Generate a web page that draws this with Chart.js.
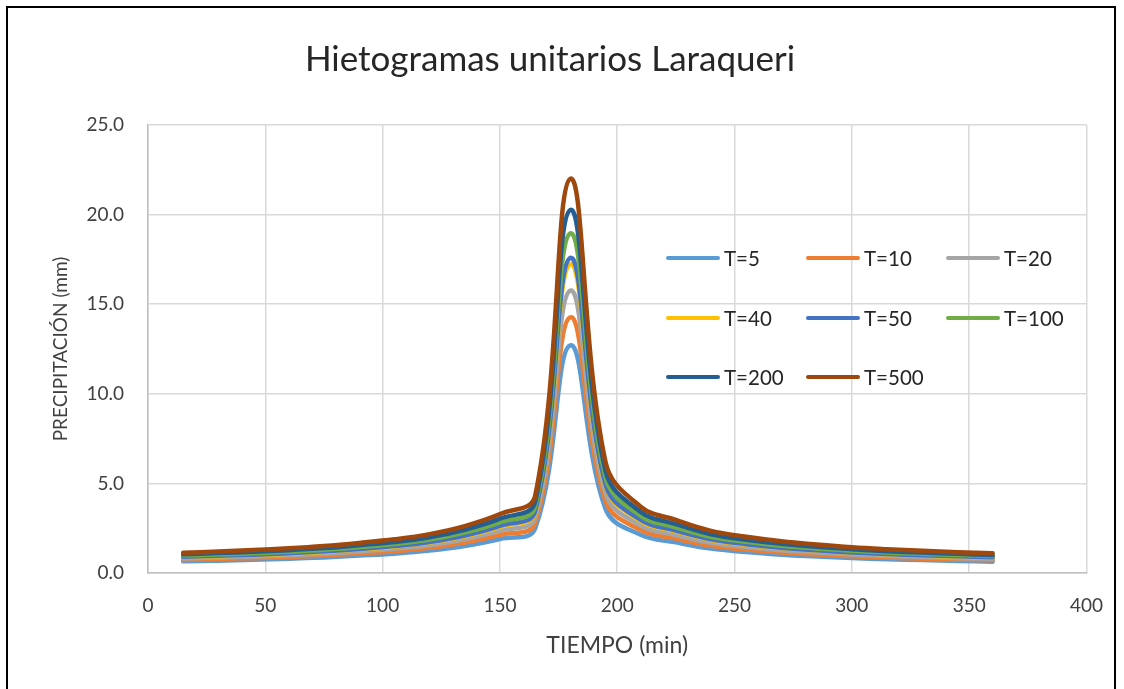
<!DOCTYPE html>
<html>
<head>
<meta charset="utf-8">
<script src="https://cdn.jsdelivr.net/npm/chart.js@4.4.1/dist/chart.umd.min.js"></script>
<style>
  html, body { margin: 0; padding: 0; background: #fff; }
  #wrap { position: relative; width: 1124px; height: 689px; overflow: hidden; background: #fff; }
  #frame { position: absolute; left: 6px; top: 6px; width: 1106px; height: 740px; border: 2px solid #000; pointer-events: none; }
  #legend { position: absolute; left: 0; top: 0; font-family: Lato, "Noto Sans", sans-serif; font-size: 20.5px; color: #262626; }
  .item { position: absolute; display: flex; align-items: center; height: 24px; white-space: nowrap; }
  .swatch { width: 54px; height: 4px; border-radius: 2px; margin-right: 4px; }
</style>
</head>
<body>
<div id="wrap">
  <canvas id="c" width="1124" height="689"></canvas>
  <div id="legend"></div>
  <div id="frame"></div>
</div>
<script>
// ---- data ----
const tiempo = [15,30,45,60,75,90,105,120,135,150,165,180,195,210,225,240,255,270,285,300,315,330,345,360];
const seriesLabels = ["T=5","T=10","T=20","T=40","T=50","T=100","T=200","T=500"];
const T5   = [0.65,0.69,0.74,0.80,0.87,0.97,1.08,1.25,1.51,1.90,2.48,12.70,3.58,2.13,1.71,1.36,1.17,1.02,0.92,0.83,0.77,0.72,0.67,0.63];
const T10  = [0.73,0.78,0.83,0.89,0.98,1.09,1.22,1.41,1.70,2.13,2.79,14.26,4.02,2.40,1.92,1.52,1.31,1.15,1.03,0.93,0.86,0.80,0.75,0.71];
const T20  = [0.81,0.86,0.92,0.99,1.08,1.20,1.35,1.55,1.88,2.36,3.08,15.76,4.44,2.65,2.12,1.68,1.45,1.27,1.14,1.03,0.95,0.89,0.83,0.79];
const T40  = [0.89,0.94,1.00,1.08,1.18,1.32,1.47,1.70,2.05,2.58,3.37,17.24,4.86,2.90,2.32,1.84,1.58,1.39,1.25,1.13,1.04,0.97,0.91,0.86];
const T50  = [0.90,0.96,1.02,1.10,1.21,1.34,1.50,1.73,2.09,2.63,3.44,17.58,4.95,2.96,2.37,1.88,1.61,1.41,1.27,1.15,1.06,0.99,0.93,0.88];
const T100 = [0.97,1.03,1.10,1.19,1.30,1.45,1.62,1.87,2.26,2.83,3.70,18.95,5.34,3.19,2.55,2.02,1.74,1.52,1.37,1.24,1.15,1.07,1.00,0.95];
const T200 = [1.04,1.11,1.18,1.27,1.39,1.55,1.73,2.00,2.41,3.03,3.96,20.26,5.71,3.41,2.73,2.16,1.86,1.63,1.46,1.33,1.22,1.14,1.07,1.01];
const T500 = [1.13,1.20,1.28,1.38,1.51,1.68,1.88,2.17,2.62,3.29,4.30,22.00,6.20,3.70,2.96,2.35,2.02,1.77,1.59,1.44,1.33,1.24,1.16,1.10];
const xTicks = [0,50,100,150,200,250,300,350,400];
const yTicks = [0,5,10,15,20,25];

const seriesValues = [T5,T10,T20,T40,T50,T100,T200,T500];
const colors = ["#5B9BD5","#ED7D31","#A5A5A5","#FFC000","#4472C4","#70AD47","#255E91","#9E480E"];

const FONT = 'Lato, "Noto Sans", sans-serif';
const TXT = '#404040';

const datasets = seriesValues.map((vals, i) => ({
  label: seriesLabels[i],
  data: tiempo.map((t, k) => ({ x: t, y: vals[k] })),
  borderColor: colors[i],
  backgroundColor: colors[i],
  borderWidth: 4.5,
  pointRadius: 0,
  tension: 0.4,
  fill: false,
  order: seriesLabels.length - 1 - i,
  borderCapStyle: 'round',
  borderJoinStyle: 'round'
}));

const chart = new Chart(document.getElementById('c'), {
  type: 'line',
  data: { datasets },
  options: {
    responsive: false,
    animation: false,
    layout: { padding: { left: 8, right: 32, top: 0, bottom: 0 } },
    plugins: {
      legend: { display: false },
      tooltip: { enabled: false },
      title: {
        display: true,
        text: 'Hietogramas unitarios Laraqueri',
        color: '#262626',
        font: { family: FONT, size: 35, weight: 'normal', lineHeight: 1.2 },
        padding: { top: 39, bottom: 44 }
      }
    },
    scales: {
      x: {
        type: 'linear',
        min: 0, max: 400,
        afterBuildTicks: (s) => { s.ticks = xTicks.map(v => ({ value: v })); },
        afterFit: (s) => { s.height = 116; },
        ticks: { color: TXT, font: { family: FONT, size: 19 }, padding: 21, maxRotation: 0 },
        grid: { color: '#d9d9d9', lineWidth: 1.5, drawTicks: false },
        border: { color: '#bfbfbf', width: 1.5 },
        title: { display: true, text: 'TIEMPO (min)', color: TXT, font: { family: FONT, size: 23 }, padding: { top: 0, bottom: 30 } }
      },
      y: {
        type: 'linear',
        min: 0, max: 25,
        afterBuildTicks: (s) => { s.ticks = yTicks.map(v => ({ value: v })); },
        afterFit: (s) => { s.width = 140; },
        ticks: { color: TXT, font: { family: FONT, size: 19 }, padding: 24, callback: (v) => Number(v).toFixed(1) },
        grid: { color: '#d9d9d9', lineWidth: 1.5, drawTicks: false },
        border: { color: '#bfbfbf', width: 1.5 },
        title: { display: true, text: 'PRECIPITACIÓN (mm)', color: TXT, font: { family: FONT, size: 19 }, padding: { top: 41, bottom: 0 } }
      }
    }
  }
});

// HTML legend built from the chart's datasets (3 columns, as in the reference)
const legend = document.getElementById('legend');
chart.data.datasets.forEach((ds, i) => {
  const col = i % 3, row = Math.floor(i / 3);
  const item = document.createElement('div');
  item.className = 'item';
  item.style.left = (666 + col * 140) + 'px';
  item.style.top = (258 + row * 59.5 - 12) + 'px';
  const sw = document.createElement('span');
  sw.className = 'swatch';
  sw.style.background = ds.borderColor;
  const tx = document.createElement('span');
  tx.textContent = ds.label;
  item.appendChild(sw); item.appendChild(tx);
  legend.appendChild(item);
});
</script>
</body>
</html>
